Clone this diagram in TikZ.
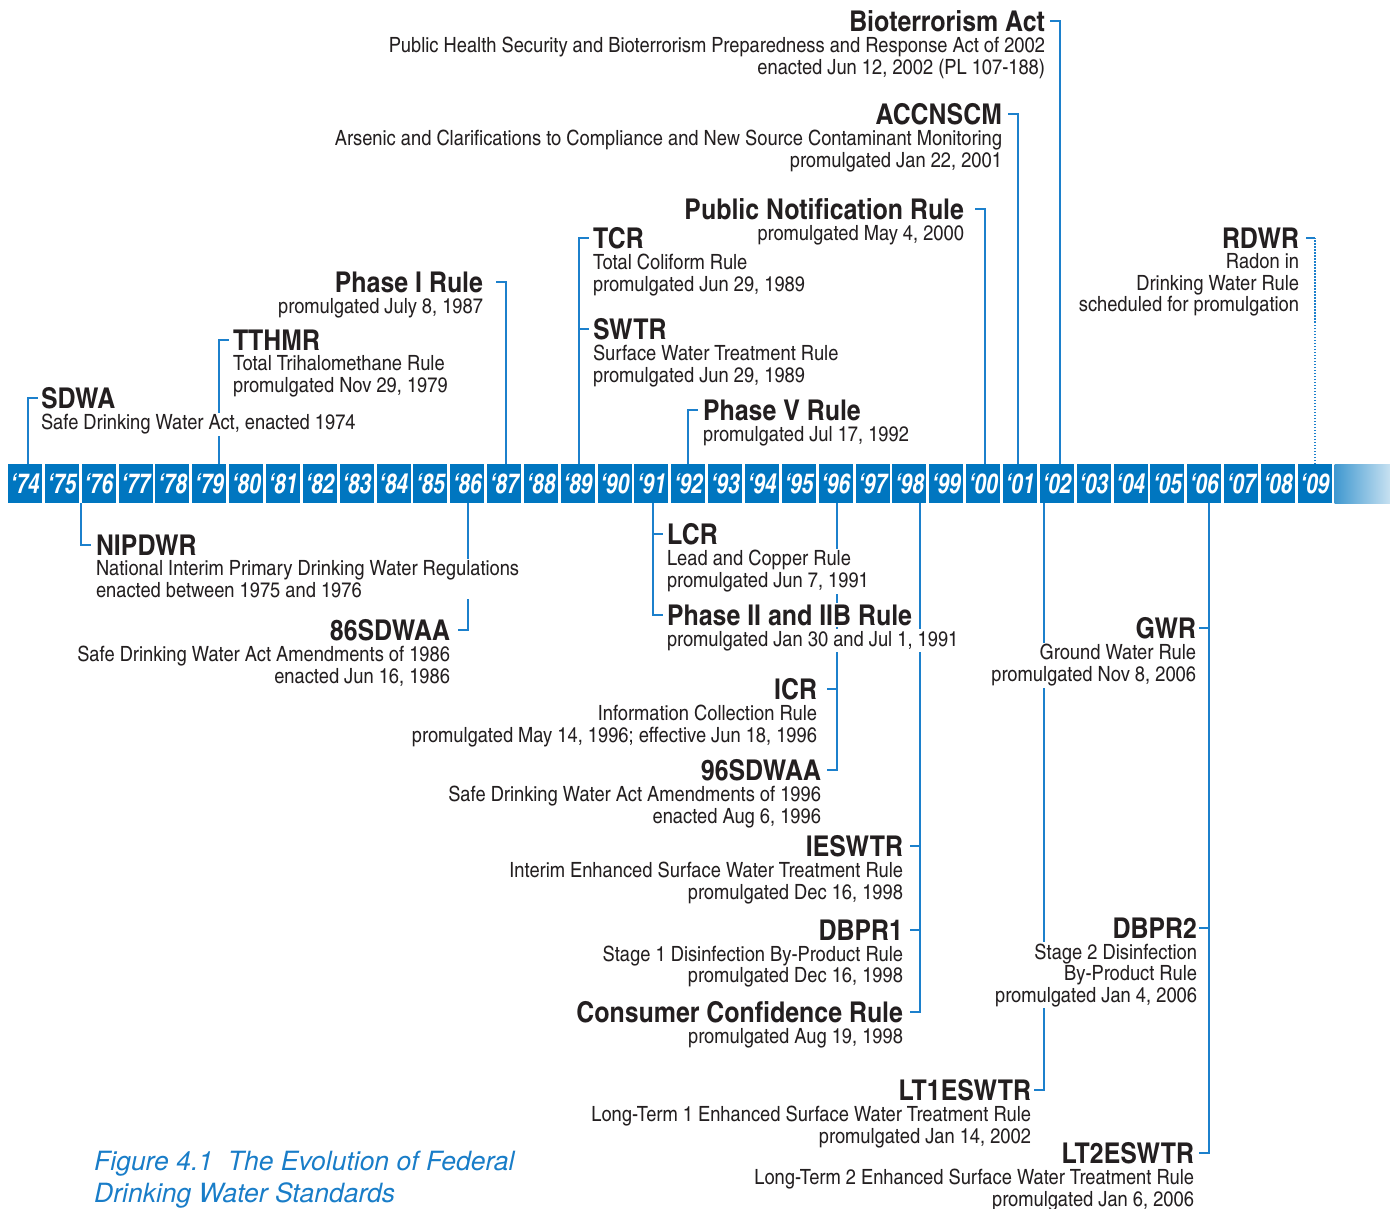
\documentclass[tikz,border=0pt]{standalone}
\usepackage{fontspec}
\setmainfont{texgyreheroscn}[Extension=.otf, UprightFont=*-regular, BoldFont=*-bold, ItalicFont=*-italic, BoldItalicFont=*-bolditalic, FakeStretch=1.062]
\newfontfamily\capfont{texgyreheros}[Extension=.otf, UprightFont=*-regular, ItalicFont=*-italic]
\usetikzlibrary{positioning}
\pgfdeclarelayer{back}
\pgfsetlayers{back,main}
\definecolor{tlblue}{RGB}{0,118,192}
\definecolor{lnblue}{RGB}{28,128,204}
\definecolor{ink}{RGB}{35,31,32}
\definecolor{capblue}{RGB}{25,125,200}
\newcommand\yrtxt[1]{\scalebox{1}[1.15]{‘#1}}
\tikzset{
  yrbox/.style={fill=tlblue, text=white, minimum width=34pt, minimum height=39pt, inner sep=0pt,
    font=\fontsize{24}{24}\selectfont\bfseries\itshape},
  hd/.style={inner sep=0pt, outer sep=0pt, text=ink, font=\fontsize{28.6}{30}\selectfont\bfseries},
  bd/.style={inner sep=0pt, outer sep=0pt, text=ink, font=\fontsize{21}{21.4}\selectfont},
  bdl/.style={bd, align=left},
  bdr/.style={bd, align=right},
  % white halo where a line runs behind the text
  halo/.style={fill=white, draw=white, line width=3.5pt},
  conn/.style={draw=lnblue, line width=1.4pt},
  dots/.style={draw=lnblue, line width=1.4pt, dash pattern=on 1.5pt off 1.5pt},
}
\begin{document}
\begin{tikzpicture}[x=1pt, y=-1pt]
  \useasboundingbox (0,0) rectangle (1390,1209);
  % year bar
  \foreach \yr [count=\i from 0] in {74,75,...,99,00,01,02,03,04,05,06,07,08,09}
    \node[yrbox] (y\yr) at ({25+36.85*\i},483.5) {\yrtxt{\yr}};
  \shade[left color=tlblue!75!white, right color=tlblue!22!white] (1334.5,464) rectangle (1390,503);
  % connector roots on the bar
  \coordinate (r74) at (28,464);
  \coordinate (r79) at (219,464);
  \coordinate (r87) at (506,464);
  \coordinate (r89) at (579,464);
  \coordinate (r92) at (688,464);
  \coordinate (r00) at (985,464);
  \coordinate (r01) at (1018,464);
  \coordinate (r02) at (1060,464);
  \coordinate (r09) at (1315,464);
  \coordinate (b75) at (81,503);
  \coordinate (b86) at (468,503);
  \coordinate (b91) at (653,503);
  \coordinate (b96) at (837,503);
  \coordinate (b98) at (920,503);
  \coordinate (b02) at (1044,503);
  \coordinate (b06) at (1209,503);

  % above the bar
  \node[hd, halo, anchor=west] (sdwa) at (41,398) {SDWA};
  \node[bdl, halo, below right=5.5pt and 0pt of sdwa.south west] (sdwax) {Safe Drinking Water Act, enacted 1974};
  \node[hd, anchor=west] (tthmr) at (233,340) {TTHMR};
  \node[bdl, below right=5.5pt and 0pt of tthmr.south west] (tthmrx) {Total Trihalomethane Rule\\promulgated Nov 29, 1979};
  \node[hd, anchor=east] (ph1) at (483,282) {Phase I Rule};
  \node[bdr, below left=5.5pt and 0pt of ph1.south east] (ph1x) {promulgated July 8, 1987};
  \node[hd, anchor=west] (tcr) at (593,238) {TCR};
  \node[bdl, below right=5.5pt and 0pt of tcr.south west] (tcrx) {Total Coliform Rule\\promulgated Jun 29, 1989};
  \node[hd, anchor=west] (swtr) at (593,329) {SWTR};
  \node[bdl, below right=5.5pt and 0pt of swtr.south west] (swtrx) {Surface Water Treatment Rule\\promulgated Jun 29, 1989};
  \node[hd, anchor=west] (ph5) at (703,410) {Phase V Rule};
  \node[bdl, below right=5.5pt and 0pt of ph5.south west] (ph5x) {promulgated Jul 17, 1992};
  \node[hd, anchor=east] (pnr) at (964,209) {Public Notification Rule};
  \node[bdr, below left=5.5pt and 0pt of pnr.south east] (pnrx) {promulgated May 4, 2000};
  \node[hd, anchor=east] (acc) at (1002,114) {ACCNSCM};
  \node[bdr, below left=5.5pt and 0pt of acc.south east] (accx) {Arsenic and Clarifications to Compliance and New Source Contaminant Monitoring\\promulgated Jan 22, 2001};
  \node[hd, anchor=east] (bio) at (1045,21) {Bioterrorism Act};
  \node[bdr, below left=5.5pt and 0pt of bio.south east] (biox) {Public Health Security and Bioterrorism Preparedness and Response Act of 2002\\enacted Jun 12, 2002 (PL 107-188)};
  \node[hd, halo, anchor=east] (rdwr) at (1299,238) {RDWR};
  \node[bdr, halo, below left=5.5pt and 0pt of rdwr.south east] (rdwrx) {Radon in\\Drinking Water Rule\\scheduled for promulgation};

  % below the bar
  \node[hd, halo, anchor=west] (nip) at (96,545) {NIPDWR};
  \node[bdl, halo, below right=5.5pt and 0pt of nip.south west] (nipx) {National Interim Primary Drinking Water Regulations\\enacted between 1975 and 1976};
  \node[hd, anchor=east] (sd86) at (450,630) {86SDWAA};
  \node[bdr, below left=5.5pt and 0pt of sd86.south east] (sd86x) {Safe Drinking Water Act Amendments of 1986\\enacted Jun 16, 1986};
  \node[hd, halo, anchor=west] (lcr) at (667,534) {LCR};
  \node[bdl, halo, below right=5.5pt and 0pt of lcr.south west] (lcrx) {Lead and Copper Rule\\promulgated Jun 7, 1991};
  \node[hd, halo, anchor=west] (ph2) at (667,615) {Phase II and IIB Rule};
  \node[bdl, halo, below right=5.5pt and 0pt of ph2.south west] (ph2x) {promulgated Jan 30 and Jul 1, 1991};
  \node[hd, anchor=east] (icr) at (817,689) {ICR};
  \node[bdr, below left=5.5pt and 0pt of icr.south east] (icrx) {Information Collection Rule\\promulgated May 14, 1996; effective Jun 18, 1996};
  \node[hd, anchor=east] (sd96) at (821,770) {96SDWAA};
  \node[bdr, below left=5.5pt and 0pt of sd96.south east] (sd96x) {Safe Drinking Water Act Amendments of 1996\\enacted Aug 6, 1996};
  \node[hd, anchor=east] (ies) at (903,846) {IESWTR};
  \node[bdr, below left=5.5pt and 0pt of ies.south east] (iesx) {Interim Enhanced Surface Water Treatment Rule\\promulgated Dec 16, 1998};
  \node[hd, anchor=east] (dbp1) at (903,930) {DBPR1};
  \node[bdr, below left=5.5pt and 0pt of dbp1.south east] (dbp1x) {Stage 1 Disinfection By-Product Rule\\promulgated Dec 16, 1998};
  \node[hd, anchor=east] (ccr) at (903,1012) {Consumer Confidence Rule};
  \node[bdr, below left=5.5pt and 0pt of ccr.south east] (ccrx) {promulgated Aug 19, 1998};
  \node[hd, anchor=east] (lt1) at (1031,1090) {LT1ESWTR};
  \node[bdr, below left=5.5pt and 0pt of lt1.south east] (lt1x) {Long-Term 1 Enhanced Surface Water Treatment Rule\\promulgated Jan 14, 2002};
  \node[hd, halo, anchor=east] (gwr) at (1196,628) {GWR};
  \node[bdr, halo, below left=5.5pt and 0pt of gwr.south east] (gwrx) {Ground Water Rule\\promulgated Nov 8, 2006};
  \node[hd, halo, anchor=east] (dbp2) at (1197,928) {DBPR2};
  \node[bdr, halo, below left=5.5pt and 0pt of dbp2.south east] (dbp2x) {Stage 2 Disinfection\\By-Product Rule\\promulgated Jan 4, 2006};
  \node[hd, anchor=east] (lt2) at (1194,1153) {LT2ESWTR};
  \node[bdr, below left=5.5pt and 0pt of lt2.south east] (lt2x) {Long-Term 2 Enhanced Surface Water Treatment Rule\\promulgated Jan 6, 2006};

  % caption
  \node[inner sep=0pt, anchor=north west, align=left, text=capblue,
    font=\capfont\itshape\fontsize{26.5}{32}\selectfont] (cap) at (94,1150.5)
    {Figure 4.1\ \ The Evolution of Federal\\Drinking Water Standards};

  % connectors
  \begin{pgfonlayer}{back}
    \draw[conn] (r74) |- ([xshift=10pt]r74 |- sdwa.west);
    \draw[conn] (r79) |- ([xshift=10pt]r79 |- tthmr.west);
    \draw[conn] (r87) |- ([xshift=-10pt]r87 |- ph1.east);
    \draw[conn] (r89) |- ([xshift=10pt]r89 |- tcr.west);
    \draw[conn] (r89 |- swtr.west) -- ([xshift=10pt]r89 |- swtr.west);
    \draw[conn] (r92) |- ([xshift=10pt]r92 |- ph5.west);
    \draw[conn] (r00) |- ([xshift=-10pt]r00 |- pnr.east);
    \draw[conn] (r01) |- ([xshift=-10pt]r01 |- acc.east);
    \draw[conn] (r02) |- ([xshift=-10pt]r02 |- bio.east);
    \draw[dots] (r09) -- (r09 |- rdwr.east);
    \draw[conn] (r09 |- rdwr.east) -- ([xshift=-9pt]r09 |- rdwr.east);
    \draw[conn] (b75) |- ([xshift=10pt]b75 |- nip.west);
    \draw[conn] (b86) |- ([xshift=-10pt]b86 |- sd86.east);
    \draw[conn] (b91) |- ([xshift=10pt]b91 |- ph2.west);
    \draw[conn] (b91 |- lcr.west) -- ([xshift=10pt]b91 |- lcr.west);
    \draw[conn] (b96) |- ([xshift=-10pt]b96 |- sd96.east);
    \draw[conn] (b96 |- icr.east) -- ([xshift=-10pt]b96 |- icr.east);
    \draw[conn] (b98) |- ([xshift=-10pt]b98 |- ccr.east);
    \draw[conn] (b98 |- ies.east) -- ([xshift=-10pt]b98 |- ies.east);
    \draw[conn] (b98 |- dbp1.east) -- ([xshift=-10pt]b98 |- dbp1.east);
    \draw[conn] (b02) |- ([xshift=-10pt]b02 |- lt1.east);
    \draw[conn] (b06) |- ([xshift=-10pt]b06 |- lt2.east);
    \draw[conn] (b06 |- gwr.east) -- ([xshift=-10pt]b06 |- gwr.east);
    \draw[conn] (b06 |- dbp2.east) -- ([xshift=-10pt]b06 |- dbp2.east);
  \end{pgfonlayer}
\end{tikzpicture}
\end{document}
